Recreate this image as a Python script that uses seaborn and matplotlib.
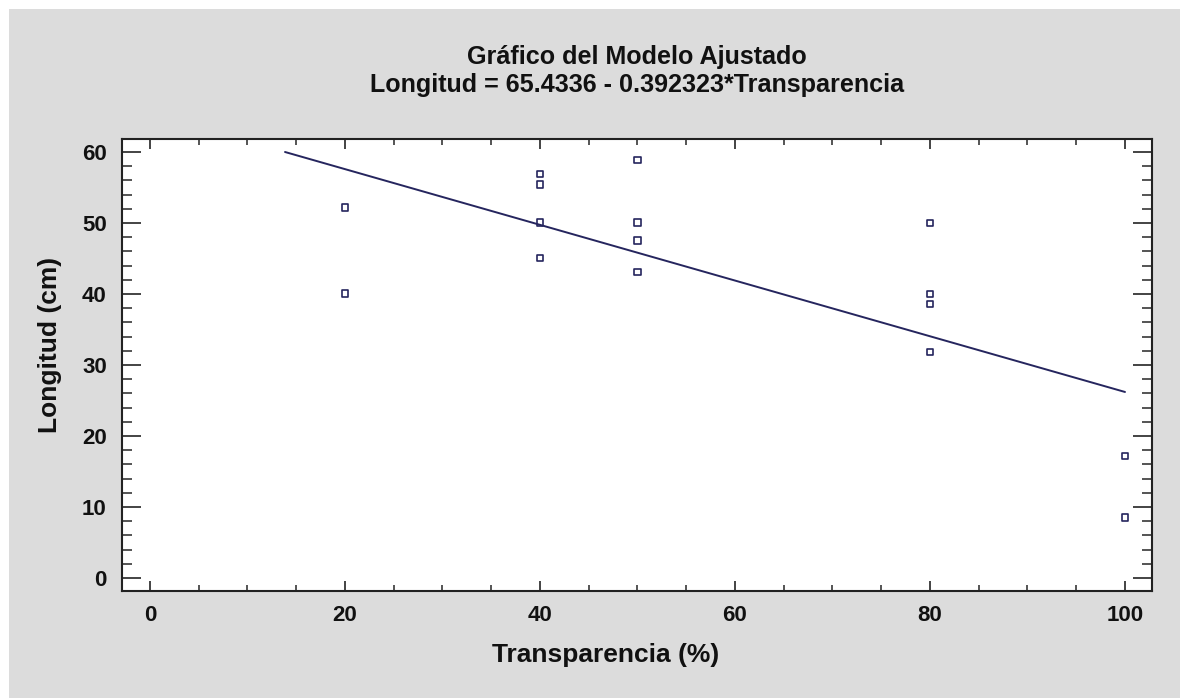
import numpy as np
import pandas as pd
import seaborn as sns
import matplotlib.pyplot as plt
from matplotlib.patches import Rectangle
from matplotlib.ticker import MultipleLocator

transparencia = [20, 20, 40, 40, 40, 40, 50, 50, 50, 50, 80, 80, 80, 80, 100, 100]
longitud = [52.2, 40.1, 56.9, 55.4, 50.1, 45.1, 58.9, 50.1, 47.5, 43.1,
            50.0, 40.0, 38.6, 31.8, 17.2, 8.5]

# fitted model
intercept = 65.4336
slope = -0.392323

df = pd.DataFrame({"Transparencia": transparencia, "Longitud": longitud})

sns.set_style("ticks")
plt.rcParams['font.family'] = ['Liberation Sans', 'DejaVu Sans']
plt.rcParams['font.weight'] = 'bold'

navy = "#25255e"
txt = "#111111"

fig = plt.figure(figsize=(11.8, 6.98), dpi=100)
fig.patch.set_facecolor("white")
fig.patches.append(Rectangle((9 / 1180, 0), 1, 1 - 9 / 698, transform=fig.transFigure,
                             facecolor="#dcdcdc", edgecolor="none", zorder=-10))

ax = fig.add_axes([122 / 1180, 1 - 591 / 698, 1030 / 1180, 452 / 698])
ax.set_facecolor("white")

# fit line drawn from where it meets the top of the scale up to the max x
x0 = (intercept - 60) / -slope
fit_x = np.array([x0, max(transparencia)])
fit = pd.DataFrame({"x": fit_x, "y": intercept + slope * fit_x})
sns.lineplot(data=fit, x="x", y="y", color=navy, linewidth=1.4, ax=ax)

sns.scatterplot(data=df, x="Transparencia", y="Longitud", marker="s", s=22,
                facecolor="none", edgecolor=navy, linewidth=1.2, ax=ax, zorder=3)

ax.set_xlim(-2.87, 102.77)
ax.set_ylim(-1.83, 61.83)
ax.xaxis.set_major_locator(MultipleLocator(20))
ax.xaxis.set_minor_locator(MultipleLocator(5))
ax.yaxis.set_major_locator(MultipleLocator(10))
ax.yaxis.set_minor_locator(MultipleLocator(2))

ax.tick_params(axis='x', which='major', direction='in', length=7.2, width=1.1,
               top=True, bottom=True, pad=10, labelsize=16, colors=txt)
ax.tick_params(axis='x', which='minor', direction='in', length=4.3, width=1.1,
               top=True, bottom=True)
ax.tick_params(axis='y', which='major', direction='in', length=13.7, width=1.1,
               left=True, right=True, pad=11, labelsize=16, colors=txt)
ax.tick_params(axis='y', which='minor', direction='in', length=7.2, width=1.1,
               left=True, right=True)

for s in ax.spines.values():
    s.set_visible(True)
    s.set_linewidth(1.5)
    s.set_color('#222222')

ax.set_xlabel("Transparencia (%)", fontsize=19, fontweight='bold', color=txt)
ax.set_ylabel("Longitud (cm)", fontsize=19, fontweight='bold', color=txt)
ax.xaxis.set_label_coords(0.470, -0.115)
ax.yaxis.set_label_coords(-0.058, 0.544)

ax.set_title("Gráfico del Modelo Ajustado\nLongitud = 65.4336 - 0.392323*Transparencia",
             fontsize=18.1, fontweight='bold', color=txt, pad=34, linespacing=1.22)

fig.savefig("out.png", dpi=100, facecolor=fig.get_facecolor())
